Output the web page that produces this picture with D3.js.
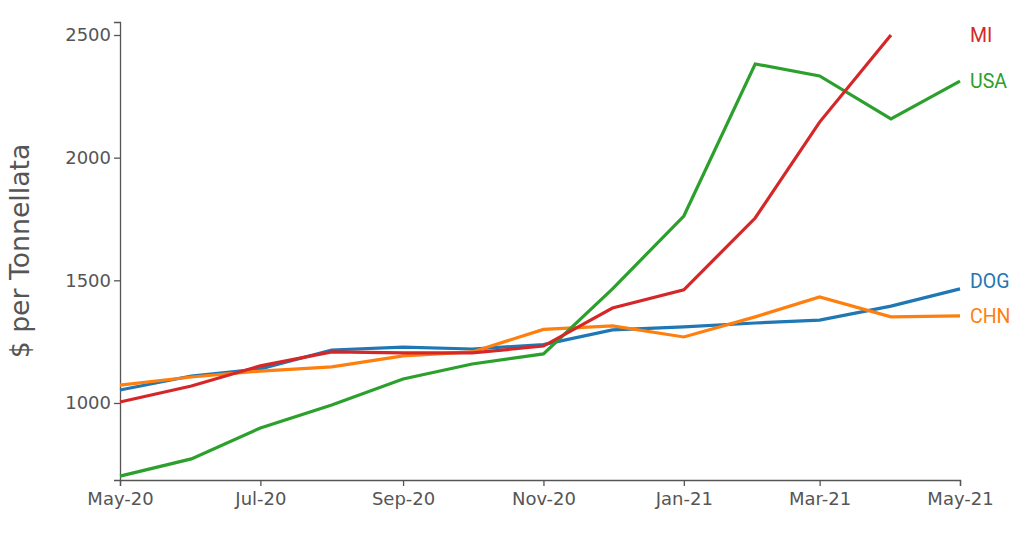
<!DOCTYPE html>
<html>
<head>
<meta charset="utf-8">
<script src="https://cdn.jsdelivr.net/npm/d3@7"></script>
<style>
  body { margin: 0; background: #fff; }
  svg { display: block; }
</style>
</head>
<body>
<svg id="chart" width="1030" height="547"></svg>
<script>
const months = ["2020-05","2020-06","2020-07","2020-08","2020-09","2020-10","2020-11","2020-12","2021-01","2021-02","2021-03","2021-04","2021-05"];
const dogValues = [1053, 1110, 1139, 1216, 1228, 1220, 1238, 1298, 1310, 1326, 1338, 1395, 1465];
const chnValues = [1073, 1106, 1130, 1147, 1192, 1208, 1300, 1314, 1269, 1351, 1432, 1351, 1355];
const usaValues = [702, 772, 898, 992, 1098, 1159, 1200, 1465, 1762, 2382, 2333, 2158, 2312];
const miValues  = [1004, 1069, 1151, 1208, 1204, 1204, 1232, 1387, 1461, 1754, 2145, 2500, null];
const seriesNames = ["DOG", "CHN", "USA", "MI"];
const seriesColors = ["#1f77b4", "#ff7f0e", "#2ca02c", "#d62728"];
const yTicks = [1000, 1500, 2000, 2500];
const xTickMonths = ["2020-05","2020-07","2020-09","2020-11","2021-01","2021-03","2021-05"];
const yTitle = "$ per Tonnellata";

const parse = d3.timeParse("%Y-%m");
const dates = months.map(parse);
const seriesValues = [dogValues, chnValues, usaValues, miValues];

const margin = {left: 120, right: 70, top: 22, bottom: 67};
const W = 1030, H = 547;
const svg = d3.select("#chart");

const x = d3.scaleTime().domain([dates[0], dates[dates.length - 1]]).range([margin.left, W - margin.right]);
const y = d3.scaleLinear().domain([686, 2553]).range([H - margin.bottom, margin.top]);

const fontAxis = "'DejaVu Sans', sans-serif";

const gx = svg.append("g").attr("transform", `translate(0,${H - margin.bottom})`)
  .call(d3.axisBottom(x).tickValues(xTickMonths.map(parse)).tickFormat(d3.timeFormat("%b-%y")).tickSizeOuter(6));
const gy = svg.append("g").attr("transform", `translate(${margin.left},0)`)
  .call(d3.axisLeft(y).tickValues(yTicks).tickFormat(d3.format("d")));

[gx, gy].forEach(g => {
  g.selectAll("path, line").attr("stroke", "#555").attr("stroke-width", 1.3);
  g.selectAll("text").attr("fill", "#555").style("font-family", fontAxis).style("font-size", "18px");
});
gx.selectAll("text").attr("dy", "0.9em");

svg.append("text")
  .attr("transform", `translate(29,${(margin.top + H - margin.bottom) / 2}) rotate(-90)`)
  .attr("text-anchor", "middle")
  .attr("fill", "#555")
  .style("font-family", fontAxis)
  .style("font-size", "26.7px")
  .text(yTitle);

const line = d3.line()
  .defined(d => d.v != null)
  .x(d => x(d.date))
  .y(d => y(d.v));

const labels = [];
seriesNames.forEach((name, i) => {
  const pts = dates.map((d, j) => ({date: d, v: seriesValues[i][j]}));
  svg.append("path")
    .datum(pts)
    .attr("fill", "none")
    .attr("stroke", seriesColors[i])
    .attr("stroke-width", 3.2)
    .attr("d", line);
  const last = pts.filter(p => p.v != null).pop();
  labels.push({name, color: seriesColors[i], ly: y(last.v)});
});

// simple label collision avoidance: keep at least 35px between labels, pushing upper ones up
labels.sort((a, b) => b.ly - a.ly);
for (let k = 1; k < labels.length; k++) {
  if (labels[k - 1].ly - labels[k].ly < 35) labels[k].ly = labels[k - 1].ly - 35;
}
labels.forEach(l => {
  svg.append("text")
    .attr("x", x(dates[dates.length - 1]) + 10)
    .attr("y", l.ly)
    .attr("dy", "0.35em")
    .attr("fill", l.color)
    .style("font-family", "Roboto, sans-serif")
    .style("font-size", "19.5px")
    .text(l.name);
});
</script>
</body>
</html>
